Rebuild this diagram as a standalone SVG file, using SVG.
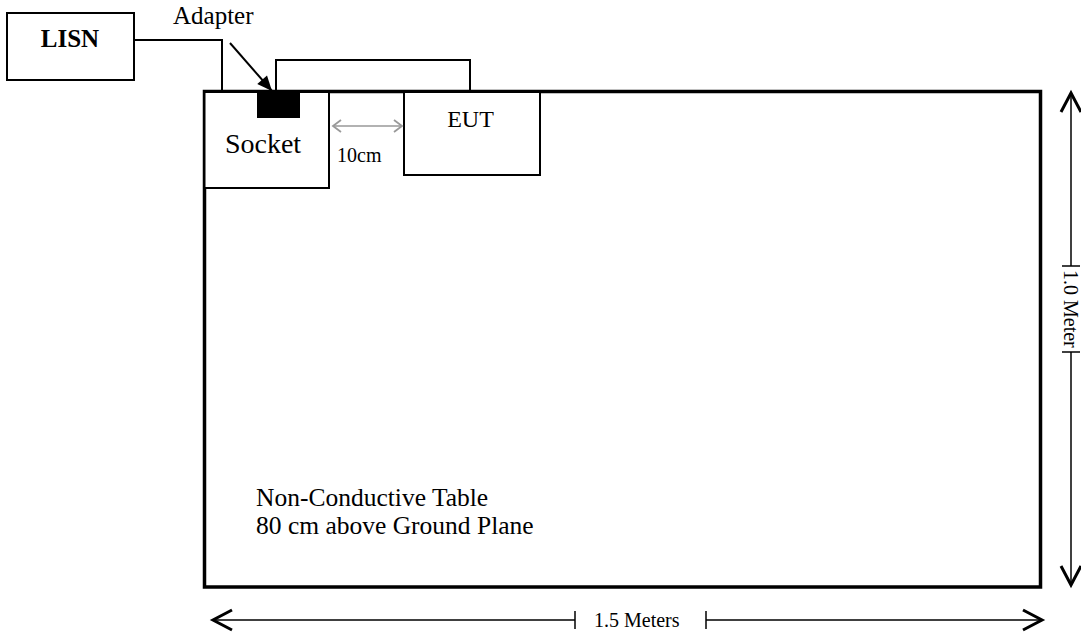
<svg xmlns="http://www.w3.org/2000/svg" width="1081" height="634" viewBox="0 0 1081 634">
<style>
.box{fill:#fff;stroke:#000;stroke-width:2}
.table{fill:#fff;stroke:#000;stroke-width:3.5}
.wire{fill:none;stroke:#000;stroke-width:2}
.dim{fill:none;stroke:#000;stroke-width:1.5}
.t{font-family:"Liberation Serif","Times New Roman",serif;fill:#000}
</style>
<defs>
<marker id="dimArrow" markerUnits="userSpaceOnUse" viewBox="-4 -14 28 28" markerWidth="28" markerHeight="28" refX="20" refY="0" orient="auto-start-reverse" overflow="visible">
<path d="M1,-10 L20,0 L1,10" fill="none" stroke="#000" stroke-width="3"/>
</marker>
<marker id="grayArrow" markerUnits="userSpaceOnUse" viewBox="-2 -8 14 16" markerWidth="14" markerHeight="16" refX="9" refY="0" orient="auto-start-reverse" overflow="visible">
<path d="M1,-6 L9,0 L1,6" fill="none" stroke="#999" stroke-width="1.8"/>
</marker>
<marker id="solidArrow" markerUnits="userSpaceOnUse" viewBox="0 -8 16 16" markerWidth="16" markerHeight="16" refX="15" refY="0" orient="auto" overflow="visible">
<path d="M0,-6.5 L15,0 L0,6.5 Z" fill="#000"/>
</marker>
</defs>

<g id="table">
<rect class="table" x="204.5" y="91.5" width="836" height="495.5"/>
<text class="t" x="256" y="506" font-size="25.5">Non-Conductive Table</text>
<text class="t" x="256" y="534" font-size="25.5">80 cm above Ground Plane</text>
</g>

<g id="lisn">
<rect class="box" x="7" y="13" width="127" height="67"/>
<text class="t" x="70" y="47" font-size="25" font-weight="bold" text-anchor="middle">LISN</text>
</g>

<g id="socket">
<rect class="box" x="204.5" y="92" width="124.5" height="96"/>
<text class="t" x="263" y="153" font-size="28" text-anchor="middle">Socket</text>
</g>

<g id="adapter">
<rect x="257" y="92" width="43" height="26" fill="#000"/>
<text class="t" x="173" y="24" font-size="25">Adapter</text>
</g>

<g id="eut">
<rect class="box" x="404" y="92" width="136" height="83"/>
<text class="t" x="470.5" y="127" font-size="24" text-anchor="middle">EUT</text>
</g>

<g id="connectors">
<polyline class="wire" points="134,40 222,40 222,91"/>
<polyline class="wire" points="276,91 276,60 470,60 470,91"/>
<line x1="230" y1="43" x2="272" y2="91" stroke="#000" stroke-width="2" marker-end="url(#solidArrow)"/>
<line x1="333" y1="126" x2="402" y2="126" stroke="#999" stroke-width="1.5" marker-start="url(#grayArrow)" marker-end="url(#grayArrow)"/>
</g>

<g id="spacing-label">
<text class="t" x="337" y="162" font-size="20">10cm</text>
</g>

<g id="dim-width">
<line class="dim" x1="575" y1="620" x2="213" y2="620" marker-end="url(#dimArrow)"/>
<line class="dim" x1="706" y1="620" x2="1042" y2="620" marker-end="url(#dimArrow)"/>
<line class="dim" x1="575" y1="611" x2="575" y2="629"/>
<line class="dim" x1="706" y1="611" x2="706" y2="629"/>
<text class="t" x="594" y="627" font-size="20">1.5 Meters</text>
</g>

<g id="dim-height">
<line class="dim" x1="1071" y1="266" x2="1071" y2="93" marker-end="url(#dimArrow)"/>
<line class="dim" x1="1071" y1="352" x2="1071" y2="585" marker-end="url(#dimArrow)"/>
<line class="dim" x1="1062" y1="266" x2="1080" y2="266"/>
<line class="dim" x1="1062" y1="352" x2="1080" y2="352"/>
<text class="t" font-size="20" transform="translate(1064,270) rotate(90)">1.0 Meter</text>
</g>
</svg>
